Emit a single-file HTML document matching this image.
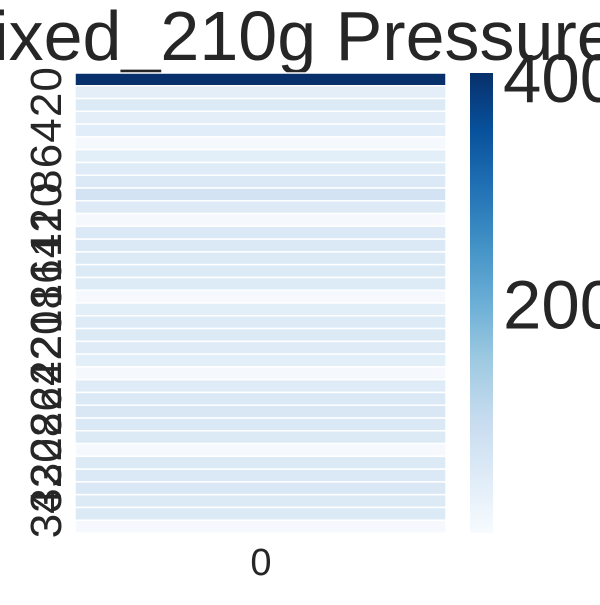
<!DOCTYPE html>
<html><head><meta charset="utf-8"><style>
html,body{margin:0;padding:0;background:#fff;}
svg text{font-family:"Liberation Sans",Arial,sans-serif;fill:#262626;}
</style></head><body>
<svg id="chart" width="600" height="600" xmlns="http://www.w3.org/2000/svg">
<defs>
<linearGradient id="cbgrad" x1="0" y1="1" x2="0" y2="0">
<stop offset="0" stop-color="#f7fbff"/><stop offset="0.125" stop-color="#deebf7"/>
<stop offset="0.25" stop-color="#c6dbef"/><stop offset="0.375" stop-color="#9ecae1"/>
<stop offset="0.5" stop-color="#6baed6"/><stop offset="0.625" stop-color="#4292c6"/>
<stop offset="0.75" stop-color="#2171b5"/><stop offset="0.875" stop-color="#08519c"/>
<stop offset="1" stop-color="#08306b"/></linearGradient>
</defs>
<text x="283" y="60" font-size="70" text-anchor="middle">Fixed_210g Pressure</text>
<g id="cells"></g>
<g id="ylabels"></g>
<text x="261" y="575" font-size="38" text-anchor="middle">0</text>
<rect x="470" y="73" width="23" height="460" fill="url(#cbgrad)"/>
<g id="cbticks"></g>
</svg>
<script>
const rowIndex = Array.from({length:36},(_,i)=>i);
const values = [406,40,55,40,45,5,42,48,58,75,50,5,58,58,55,55,52,5,42,52,55,48,42,5,48,58,62,58,55,5,55,58,60,55,55,5];
const cbTicks = [200,400];
const vmin = 0, vmax = 406;
const plotTop = 73, plotBottom = 533, plotLeft = 75, plotRight = 446;
const rowH = (plotBottom-plotTop)/values.length;
const ns = "http://www.w3.org/2000/svg";
const stops = ["#f7fbff","#deebf7","#c6dbef","#9ecae1","#6baed6","#4292c6","#2171b5","#08519c","#08306b"];
function hex(c){return [1,3,5].map(i=>parseInt(c.substr(i,2),16));}
function color(v){
  let t=Math.max(0,Math.min(1,(v-vmin)/(vmax-vmin)))*8;
  let i=Math.min(7,Math.floor(t)), f=t-i;
  let a=hex(stops[i]), b=hex(stops[i+1]);
  return "rgb("+a.map((x,k)=>Math.round(x+(b[k]-x)*f)).join(",")+")";
}
function yRow(i){return plotTop+i*rowH;}
function yCb(v){return plotBottom-(v-vmin)/(vmax-vmin)*(plotBottom-plotTop);}
const cells=document.getElementById("cells");
values.forEach((v,i)=>{
  const r=document.createElementNS(ns,"rect");
  r.setAttribute("x",plotLeft);r.setAttribute("y",yRow(i));
  r.setAttribute("width",plotRight-plotLeft);r.setAttribute("height",rowH);
  r.setAttribute("fill",color(v));r.setAttribute("stroke","#fff");r.setAttribute("stroke-width","1.5");
  
  
  cells.appendChild(r);
});
const yl=document.getElementById("ylabels");
rowIndex.filter(i=>i%2===0).forEach(i=>{
  const t=document.createElementNS(ns,"text");
  const cy=yRow(i)+rowH/2;
  t.setAttribute("x",0);t.setAttribute("y",0);
  t.setAttribute("font-size","44");t.setAttribute("text-anchor","middle");
  t.setAttribute("transform","translate(61,"+cy+") rotate(-90)");
  t.textContent=String(i);
  
  
  yl.appendChild(t);
});
const cb=document.getElementById("cbticks");
cbTicks.forEach(v=>{
  const t=document.createElementNS(ns,"text");
  t.setAttribute("x",503);t.setAttribute("y",yCb(v)+22);
  t.setAttribute("font-size","69");
  t.textContent=String(v);
  
  
  cb.appendChild(t);
});
</script>
</body></html>
